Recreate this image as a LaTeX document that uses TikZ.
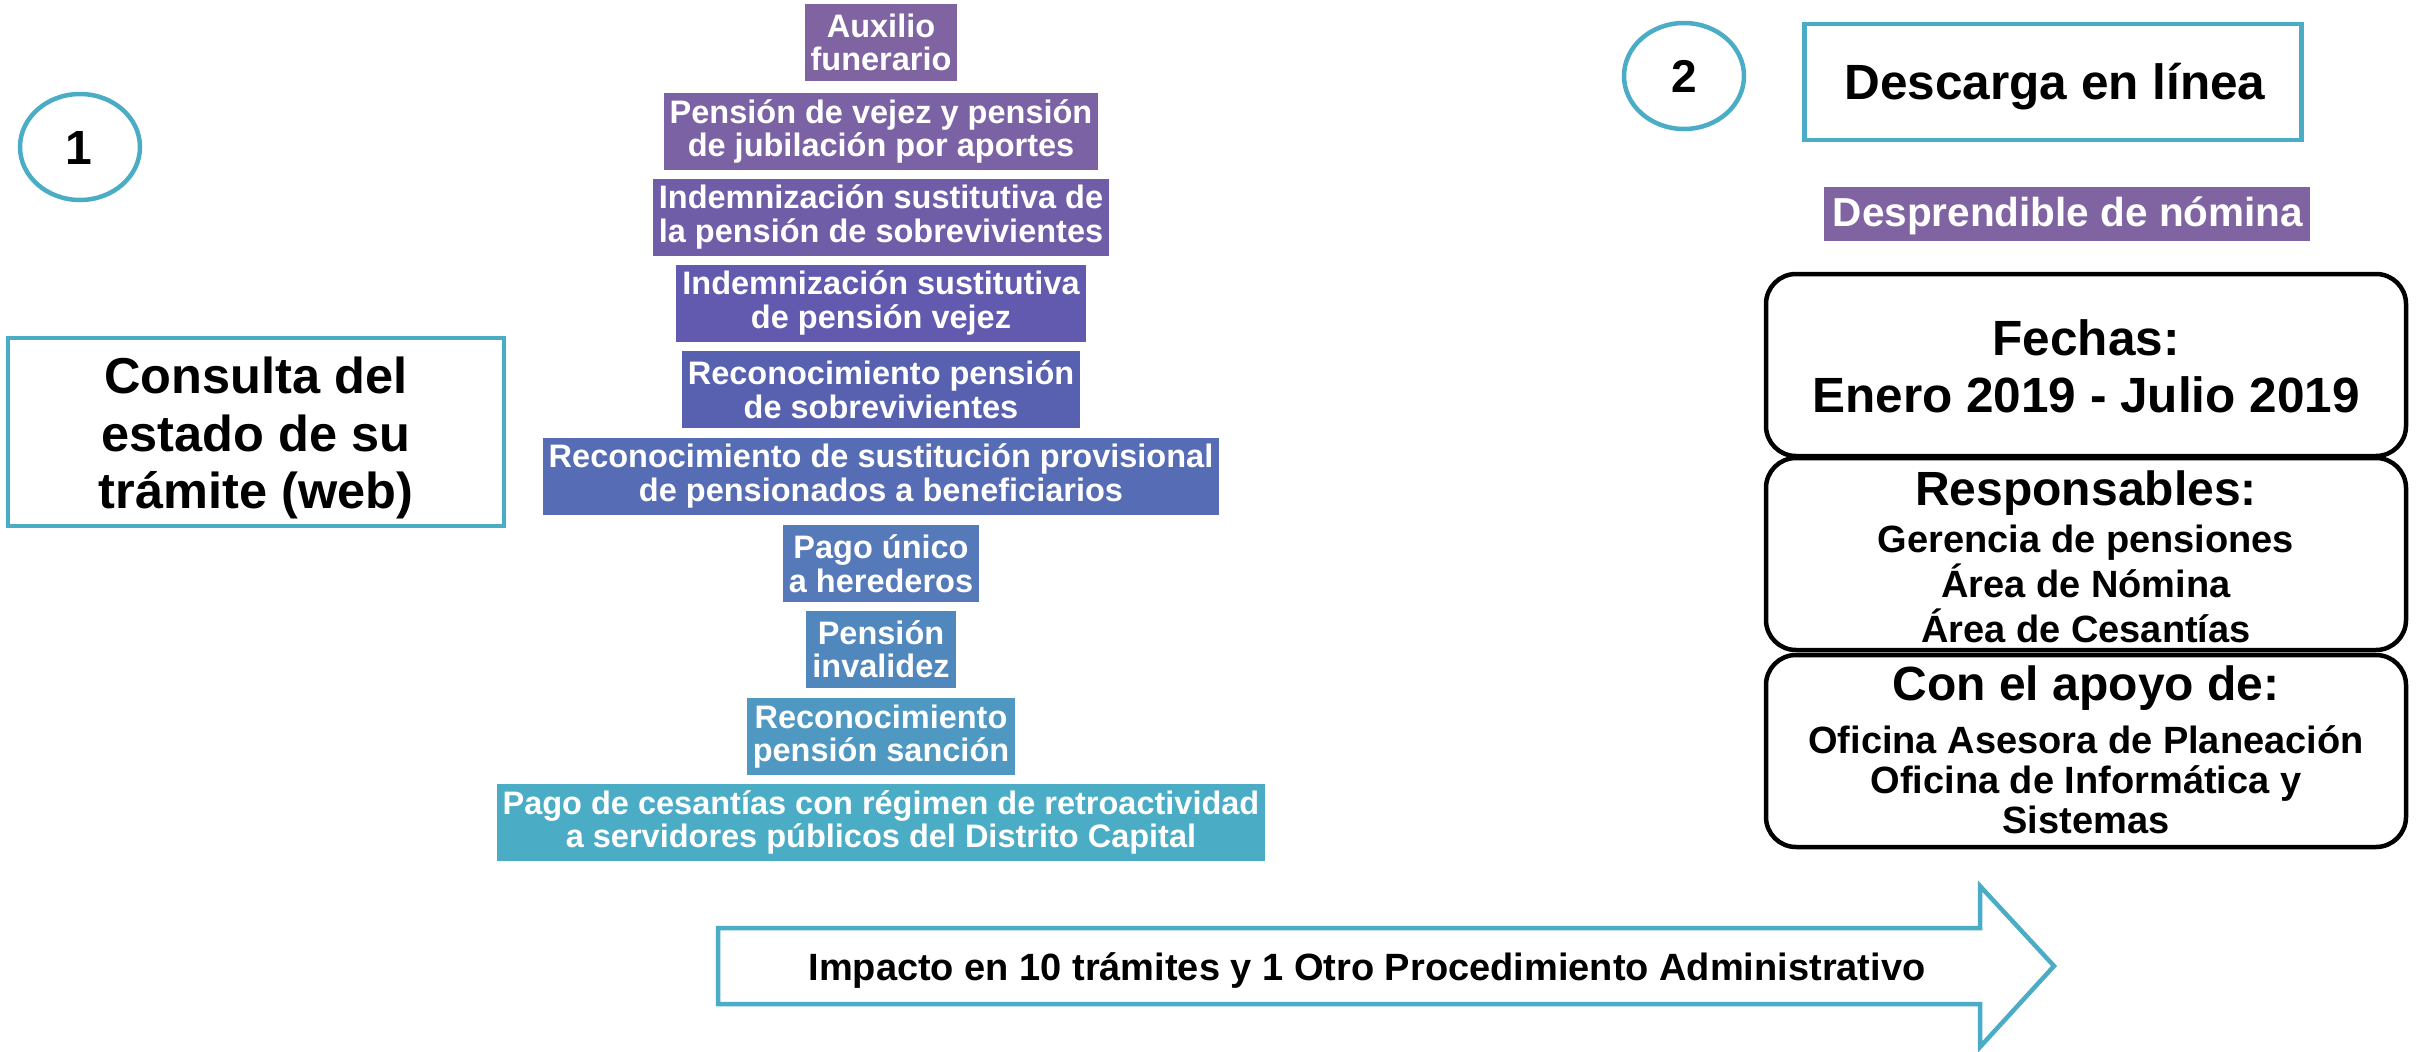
\documentclass[tikz,border=0pt]{standalone}
\usepackage{fontspec}
\setmainfont{Liberation Sans}
\usetikzlibrary{shapes.geometric}
\definecolor{tealc}{HTML}{4BACC6}
\definecolor{purp}{HTML}{8064A2}
\definecolor{pa}{HTML}{8064A2}
\definecolor{pb}{HTML}{7B62A4}
\definecolor{pc}{HTML}{6F5DA8}
\definecolor{pd}{HTML}{615AAE}
\definecolor{pe}{HTML}{5860B0}
\definecolor{pf}{HTML}{566CB5}
\definecolor{pg}{HTML}{5579B9}
\definecolor{ph}{HTML}{5087BD}
\definecolor{pi}{HTML}{4E98C2}
\definecolor{pj}{HTML}{4BACC6}
\begin{document}
\begin{tikzpicture}[x=1pt,y=-1pt,
  tealline/.style={draw=tealc, line width=4.5pt},
  numcirc/.style={ellipse, tealline, minimum width=120pt, minimum height=106pt, inner sep=0pt},
  pyr/.style={fill=#1, text=white, font=\fontsize{32.5}{33.5}\selectfont\bfseries, align=center,
              minimum height=77pt, inner xsep=6pt, inner ysep=0pt},
  rbox/.style={draw=black, line width=4.5pt, rounded corners=30pt, minimum width=640pt, inner sep=0pt},
  big/.style={font=\fontsize{49.5}{57}\selectfont\bfseries, anchor=base, inner sep=0pt},
  mid/.style={font=\fontsize{48}{50}\selectfont\bfseries, anchor=base, inner sep=0pt},
  small/.style={font=\fontsize{38}{43}\selectfont\bfseries, anchor=base, inner sep=0pt}
]
\useasboundingbox (0,0) rectangle (2420,1052);

% left part
\node[numcirc] (c1) at (80,147) {};
\node[big, font=\fontsize{48}{50}\selectfont\bfseries] (n1) at (79,164) {1};
\node[tealline, minimum width=496pt, minimum height=188pt, inner sep=0pt] (consulta) at (256,432) {};
\node[big, font=\fontsize{50.5}{57}\selectfont\bfseries] (cl1) at (256,393) {Consulta del};
\node[big, font=\fontsize{50.5}{57}\selectfont\bfseries] (cl2) at (256,451) {estado de su};
\node[big, font=\fontsize{50.5}{57}\selectfont\bfseries] (cl3) at (256,508) {trámite (web)};

% pyramid
\node[pyr=pa] (t1) at (881,42.5) {Auxilio\\funerario};
\node[pyr=pb] (t2) at (881,131.5) {Pensión de vejez y pensión\\de jubilación por aportes};
\node[pyr=pc] (t3) at (881,217) {Indemnización sustitutiva de\\la pensión de sobrevivientes};
\node[pyr=pd] (t4) at (881,303) {Indemnización sustitutiva\\de pensión vejez};
\node[pyr=pe] (t5) at (881,389.5) {Reconocimiento pensión\\de sobrevivientes};
\node[pyr=pf] (t6) at (881,476) {Reconocimiento de sustitución provisional\\de pensionados a beneficiarios};
\node[pyr=pg] (t7) at (881,563.5) {Pago único\\a herederos};
\node[pyr=ph] (t8) at (881,649) {Pensión\\invalidez};
\node[pyr=pi] (t9) at (881,736.5) {Reconocimiento\\pensión sanción};
\node[pyr=pj] (t10) at (881,822.5) {Pago de cesantías con régimen de retroactividad\\a servidores públicos del Distrito Capital};

% arrow
\draw[tealline, line join=miter] (718,928) -- (1980,928) -- (1980,886) -- (2054,966) -- (1980,1047) -- (1980,1004) -- (718,1004) -- cycle;
\node[small] (arrowtxt) at (1367,980) {Impacto en 10 trámites y 1 Otro Procedimiento Administrativo};

% right part
\node[numcirc] (c2) at (1684,76) {};
\node[big, font=\fontsize{46}{50}\selectfont\bfseries] (n2) at (1684,92) {2};
\node[tealline, minimum width=497pt, minimum height=116pt, inner sep=0pt] (descarga) at (2053,82) {};
\node[big] (desc) at (2055,99) {Descarga en línea};
\node[fill=purp, minimum width=486pt, minimum height=54pt, inner sep=0pt] (despr) at (2067,214) {};
\node[anchor=base, inner sep=0pt, text=white, font=\fontsize{40.5}{44}\selectfont\bfseries] (desprt) at (2068,226) {Desprendible de nómina};

\node[rbox, minimum height=182pt] (fechas) at (2086,365) {};
\node[big] (f1) at (2086,355) {Fechas:};
\node[big] (f2) at (2086,412) {Enero 2019 - Julio 2019};

\node[rbox, minimum height=192pt] (resp) at (2086,554) {};
\node[mid] (r0) at (2086,505) {Responsables:};
\node[small] (r1) at (2086,552) {Gerencia de pensiones};
\node[small] (r2) at (2086,597) {Área de Nómina};
\node[small] (r3) at (2086,642) {Área de Cesantías};

\node[rbox, minimum height=192pt] (apoyo) at (2086,751) {};
\node[mid] (a0) at (2086,700) {Con el apoyo de:};
\node[small] (a1) at (2086,753) {Oficina Asesora de Planeación};
\node[small] (a2) at (2086,793) {Oficina de Informática y};
\node[small] (a3) at (2086,833) {Sistemas};
\end{tikzpicture}
\end{document}
